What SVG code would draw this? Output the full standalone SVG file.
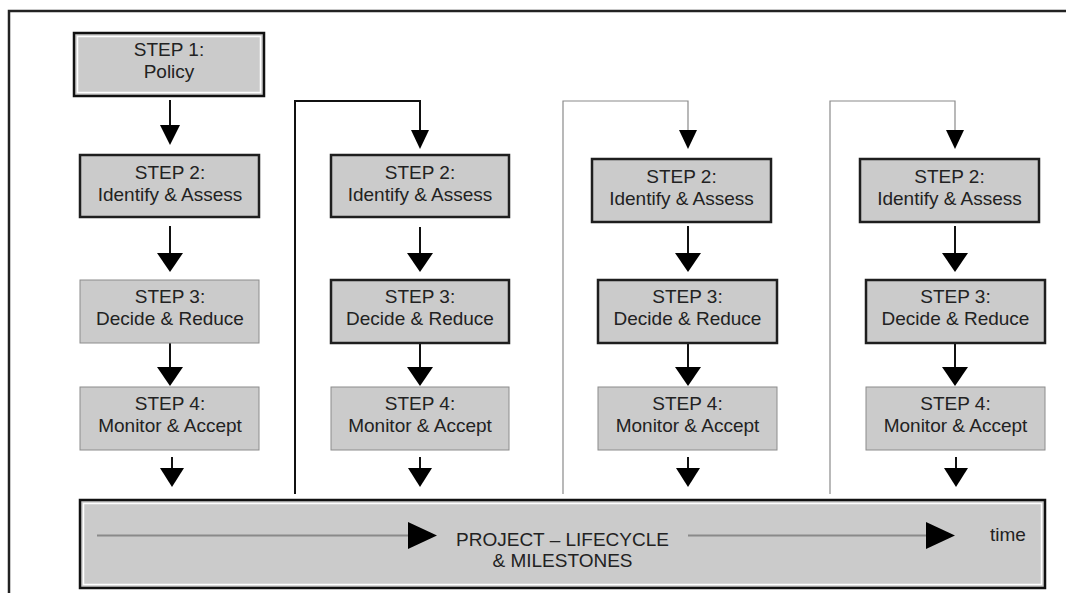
<svg xmlns="http://www.w3.org/2000/svg" width="1066" height="593" viewBox="0 0 1066 593">
<style>
text{font-family:"Liberation Sans",Arial,sans-serif;font-size:19px;fill:#222;text-anchor:middle}
.box{fill:#cbcbcb}
.thick{stroke:#1e1e1e;stroke-width:2.5}
.thin{stroke:#8c8c8c;stroke-width:1}
.dbl{stroke:#111;stroke-width:2.5}
.inner{fill:none;stroke:#fff;stroke-width:1.5}
.ah{fill:#000}
.cline{fill:none;stroke:#111;stroke-width:2}
.gline{fill:none;stroke:#8a8a8a;stroke-width:1.2}
</style>
<rect width="1066" height="593" fill="#fff"/>
<g id="frame">
<path d="M9,593 V11 H1066" fill="none" stroke="#222" stroke-width="2.5"/>
</g>
<g id="connectors">
<!-- column 1 -->
<line class="cline" x1="170" y1="100" x2="170" y2="127"/><polygon class="ah" points="160,125 180,125 170,145"/>
<line class="cline" x1="170" y1="226" x2="170" y2="255"/><polygon class="ah" points="157,253 183,253 170,272"/>
<line class="cline" x1="170" y1="343" x2="170" y2="369"/><polygon class="ah" points="157,367 183,367 170,386"/>
<line class="cline" x1="172" y1="457" x2="172" y2="470"/><polygon class="ah" points="160,468 184,468 172,487"/>
<!-- column 2 -->
<path class="cline" d="M295,494 V101 H420 V132"/><polygon class="ah" points="411,130 429,130 420,149"/>
<line class="cline" x1="420" y1="227" x2="420" y2="255"/><polygon class="ah" points="407,253 433,253 420,272"/>
<line class="cline" x1="420" y1="343" x2="420" y2="369"/><polygon class="ah" points="407,367 433,367 420,386"/>
<line class="cline" x1="420" y1="457" x2="420" y2="470"/><polygon class="ah" points="408,468 432,468 420,487"/>
<!-- column 3 -->
<path class="gline" d="M563,494 V101 H688 V132"/><polygon class="ah" points="679,130 697,130 688,149"/>
<line class="cline" x1="688" y1="226" x2="688" y2="255"/><polygon class="ah" points="675,253 701,253 688,272"/>
<line class="cline" x1="688" y1="343" x2="688" y2="369"/><polygon class="ah" points="675,367 701,367 688,386"/>
<line class="cline" x1="688" y1="457" x2="688" y2="470"/><polygon class="ah" points="676,468 700,468 688,487"/>
<!-- column 4 -->
<path class="gline" d="M830,494 V101 H955 V132"/><polygon class="ah" points="946,130 964,130 955,149"/>
<line class="cline" x1="955" y1="226" x2="955" y2="255"/><polygon class="ah" points="942,253 968,253 955,272"/>
<line class="cline" x1="955" y1="343" x2="955" y2="369"/><polygon class="ah" points="942,367 968,367 955,386"/>
<line class="cline" x1="956" y1="457" x2="956" y2="470"/><polygon class="ah" points="944,468 968,468 956,487"/>
</g>
<g id="step1">
<rect class="box dbl" x="74" y="33" width="190" height="63"/>
<rect class="inner" x="77.5" y="36.5" width="183" height="56"/>
<text x="169" y="56">STEP 1:</text><text x="169" y="78">Policy</text>
</g>
<g id="c1-step2">
<rect class="box thick" x="80" y="155" width="179" height="62"/>
<text x="170" y="179">STEP 2:</text><text x="170" y="201">Identify &amp; Assess</text>
</g>
<g id="c1-step3">
<rect class="box thin" x="80" y="280" width="179" height="63"/>
<text x="170" y="303">STEP 3:</text><text x="170" y="325">Decide &amp; Reduce</text>
</g>
<g id="c1-step4">
<rect class="box thin" x="80" y="387" width="179" height="63"/>
<text x="170" y="410">STEP 4:</text><text x="170" y="432">Monitor &amp; Accept</text>
</g>
<g id="c2-step2">
<rect class="box thick" x="331" y="155" width="178" height="62"/>
<text x="420" y="179">STEP 2:</text><text x="420" y="201">Identify &amp; Assess</text>
</g>
<g id="c2-step3">
<rect class="box thick" x="331" y="280" width="178" height="63"/>
<text x="420" y="303">STEP 3:</text><text x="420" y="325">Decide &amp; Reduce</text>
</g>
<g id="c2-step4">
<rect class="box thin" x="331" y="387" width="178" height="63"/>
<text x="420" y="410">STEP 4:</text><text x="420" y="432">Monitor &amp; Accept</text>
</g>
<g id="c3-step2">
<rect class="box thick" x="592" y="159" width="179" height="63"/>
<text x="681.5" y="183">STEP 2:</text><text x="681.5" y="205">Identify &amp; Assess</text>
</g>
<g id="c3-step3">
<rect class="box thick" x="598" y="280" width="179" height="63"/>
<text x="687.5" y="303">STEP 3:</text><text x="687.5" y="325">Decide &amp; Reduce</text>
</g>
<g id="c3-step4">
<rect class="box thin" x="598" y="387" width="179" height="63"/>
<text x="687.5" y="410">STEP 4:</text><text x="687.5" y="432">Monitor &amp; Accept</text>
</g>
<g id="c4-step2">
<rect class="box thick" x="860" y="159" width="179" height="63"/>
<text x="949.5" y="183">STEP 2:</text><text x="949.5" y="205">Identify &amp; Assess</text>
</g>
<g id="c4-step3">
<rect class="box thick" x="866" y="280" width="179" height="63"/>
<text x="955.5" y="303">STEP 3:</text><text x="955.5" y="325">Decide &amp; Reduce</text>
</g>
<g id="c4-step4">
<rect class="box thin" x="866" y="387" width="179" height="63"/>
<text x="955.5" y="410">STEP 4:</text><text x="955.5" y="432">Monitor &amp; Accept</text>
</g>
<g id="lifecycle">
<rect class="box dbl" x="80" y="500" width="965" height="88"/>
<rect class="inner" x="83.5" y="503.5" width="958" height="81"/>
<line x1="97" y1="535.5" x2="410" y2="535.5" stroke="#8a8a8a" stroke-width="1.8"/>
<polygon class="ah" points="408,522 437,535.5 408,549"/>
<line x1="688" y1="535.5" x2="928" y2="535.5" stroke="#8a8a8a" stroke-width="1.8"/>
<polygon class="ah" points="926,522 955,535.5 926,549"/>
<text x="562.5" y="546">PROJECT – LIFECYCLE</text>
<text x="562.5" y="567">&amp; MILESTONES</text>
<text x="1008" y="541">time</text>
</g>
</svg>
